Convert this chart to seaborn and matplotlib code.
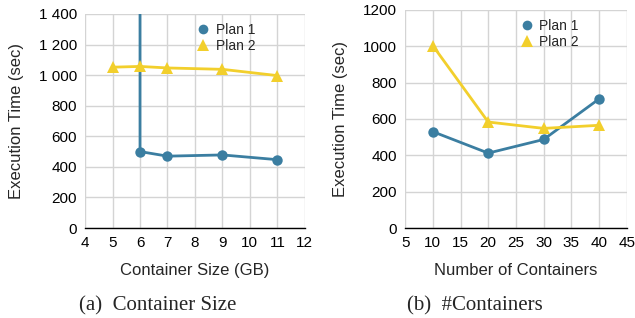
import numpy as np
import pandas as pd
import seaborn as sns
import matplotlib.pyplot as plt
from matplotlib.lines import Line2D
from matplotlib.ticker import FuncFormatter, MultipleLocator


# (a) container size
size_gb_p1 = [6, 6, 7, 9, 11]
size_time_p1 = [3000, 500, 470, 478, 447]
size_gb_p2 = [5, 6, 7, 9, 11]
size_time_p2 = [1052, 1057, 1047, 1038, 997]

# (b) number of containers
num_p1 = [10, 20, 30, 40]
num_time_p1 = [530, 412, 487, 710]
num_p2 = [10, 20, 30, 40]
num_time_p2 = [1003, 583, 548, 565]

BLUE = '#3b7ea1'
YELLOW = '#f2cf2c'

sns.set_style('whitegrid')
plt.rcParams['font.family'] = ['Liberation Sans', 'DejaVu Sans']


def draw_panel(ax, x1, y1, x2, y2, leg_x):
    sns.lineplot(x=x1, y=y1, ax=ax, color=BLUE, marker='o', markersize=7.5,
                 markeredgewidth=0, linewidth=2, estimator=None, sort=False)
    sns.lineplot(x=x2, y=y2, ax=ax, color=YELLOW, marker='^', markersize=9,
                 markeredgewidth=0, linewidth=2, estimator=None, sort=False)
    ax.grid(True, color='#d4d4d4', linewidth=1)
    for s in ['left', 'right', 'top']:
        ax.spines[s].set_visible(False)
    ax.spines['bottom'].set_color('black')
    ax.spines['bottom'].set_linewidth(1)
    ax.tick_params(length=0, labelsize=11, pad=6, colors='black')
    handles = [Line2D([], [], color=BLUE, marker='o', linestyle='none', markersize=7, markeredgewidth=0),
               Line2D([], [], color=YELLOW, marker='^', linestyle='none', markersize=8, markeredgewidth=0)]
    ax.legend(handles, ['Plan 1', 'Plan 2'], loc='upper right', frameon=False,
              fontsize=10, handletextpad=0.3, labelspacing=0.15,
              bbox_to_anchor=(leg_x, 0.985), borderaxespad=0, handlelength=1.2)
    ax.set_ylabel('Execution Time (sec)', fontsize=12)


fig = plt.figure(figsize=(6.35, 3.18), dpi=100)
ax1 = fig.add_axes([0.134, 0.283, 0.346, 0.673])
ax2 = fig.add_axes([0.638, 0.283, 0.349, 0.686])

draw_panel(ax1, size_gb_p1, size_time_p1, size_gb_p2, size_time_p2, 0.80)
ax1.set_xlim(4, 12)
ax1.set_ylim(0, 1400)
ax1.xaxis.set_major_locator(MultipleLocator(1))
ax1.yaxis.set_major_locator(MultipleLocator(200))
ax1.yaxis.set_major_formatter(FuncFormatter(lambda v, p: f'{int(v):,}'.replace(',', ' ')))
ax1.set_xlabel('Container Size (GB)', fontsize=12, labelpad=9)
ax1.yaxis.set_label_coords(-0.28, 0.5)

draw_panel(ax2, num_p1, num_time_p1, num_p2, num_time_p2, 0.81)
ax2.set_xlim(5, 45)
ax2.set_ylim(0, 1200)
ax2.xaxis.set_major_locator(MultipleLocator(5))
ax2.yaxis.set_major_locator(MultipleLocator(200))
ax2.set_xlabel('Number of Containers', fontsize=12, labelpad=9)
ax2.yaxis.set_label_coords(-0.26, 0.5)

fig.text(0.249, 0.025, '(a)  Container Size', family='Liberation Serif', fontsize=15, ha='center')
fig.text(0.748, 0.025, '(b)  #Containers', family='Liberation Serif', fontsize=15, ha='center')

fig.savefig('out.png', dpi=100)
